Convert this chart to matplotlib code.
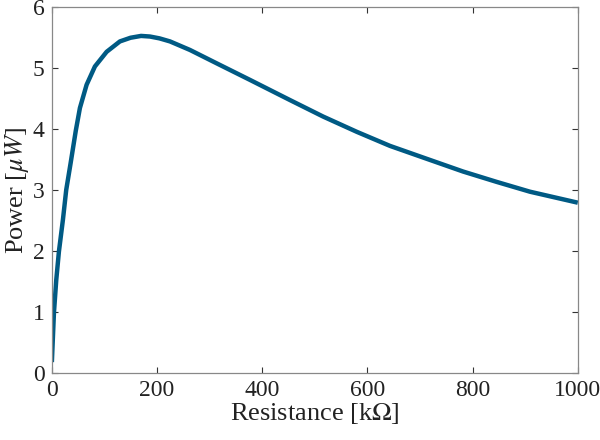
import matplotlib
matplotlib.use("Agg")
import matplotlib.pyplot as plt

resistance_kohm = [0.5, 4.4, 8.8, 13.9, 21.5, 27.8, 36, 46, 53.8, 66.5, 82.3, 104.6,
                   129.8, 150, 170, 187, 205, 225, 263, 314, 377, 453, 516, 580, 643,
                   719, 782, 846, 909, 1000]
power_uw = [0.18, 0.98, 1.52, 1.99, 2.51, 3.00, 3.43, 3.97, 4.34, 4.72, 5.02, 5.26,
            5.43, 5.49, 5.52, 5.51, 5.48, 5.43, 5.29, 5.07, 4.80, 4.47, 4.20, 3.95, 3.72,
            3.49, 3.30, 3.13, 2.97, 2.79]
x_ticks = [0, 200, 400, 600, 800, 1000]
y_ticks = [0, 1, 2, 3, 4, 5, 6]

plt.rcParams['font.family'] = ['Liberation Serif', 'DejaVu Serif']
plt.rcParams['mathtext.fontset'] = 'stix'

fig = plt.figure(figsize=(6, 4.4), dpi=100)
ax = fig.add_axes([0.086, 0.152, 0.877, 0.833])
ax.plot(resistance_kohm, power_uw, color='#005a84', lw=3.2,
        solid_capstyle='butt', solid_joinstyle='round')
ax.set_xlim(0, 1000)
ax.set_ylim(0, 6)
ax.set_xticks(x_ticks)
ax.set_yticks(y_ticks)
ax.tick_params(direction='in', top=True, right=True, length=4, width=0.8,
               colors='#333333', labelsize=17, labelcolor='#222222', pad=5)
for s in ax.spines.values():
    s.set_color('#888888')
    s.set_linewidth(0.9)
ax.set_xlabel('Resistance [k$\\Omega$]', fontsize=19, color='#222222', labelpad=0)
ax.set_ylabel('Power [$\\mu W$]', fontsize=19, color='#222222', labelpad=1)
fig.savefig('out.png', dpi=100)
